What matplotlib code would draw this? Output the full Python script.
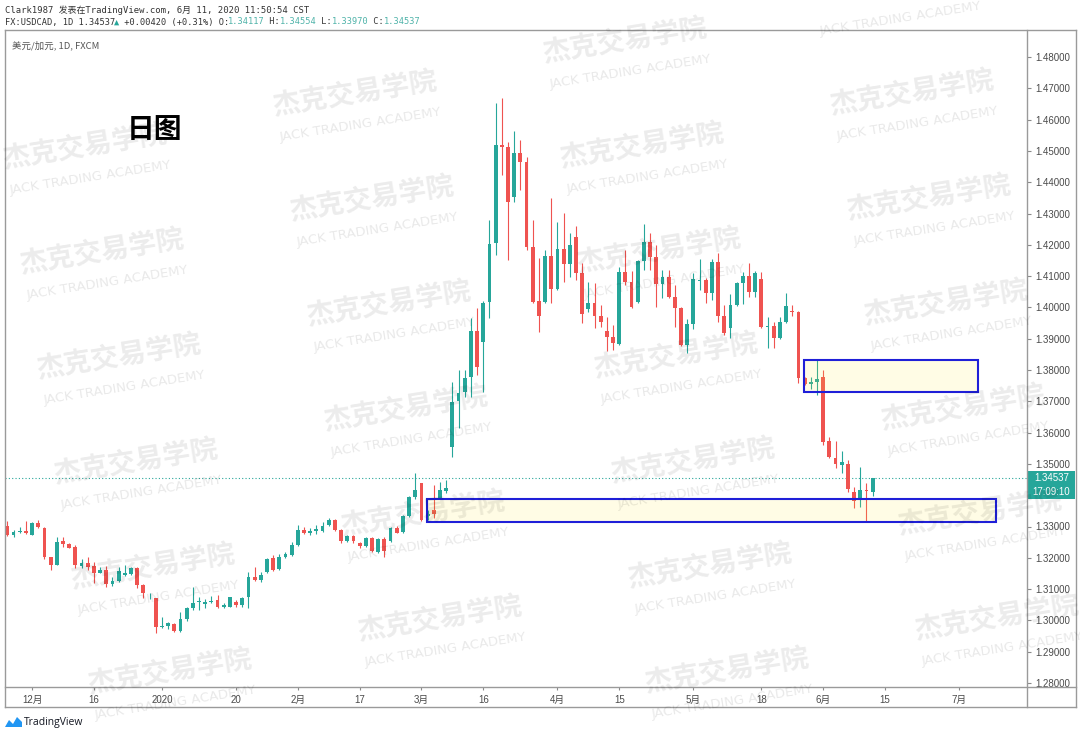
import matplotlib
matplotlib.use("Agg")
import matplotlib.pyplot as plt
import numpy as np
import pandas as pd
from matplotlib.patches import Rectangle, Polygon
from matplotlib.lines import Line2D

# ---------------- data ----------------
calendar = pd.bdate_range("2019-11-26", "2020-07-31")
calendar = calendar[~calendar.isin(pd.to_datetime(["2019-12-25", "2020-01-01"]))]

opens = [1.3300, 1.3273, 1.3281, 1.3286, 1.3273, 1.3310, 1.3296, 1.3202, 1.3176, 1.3254,
         1.3243, 1.3234, 1.3174, 1.3182, 1.3174, 1.3153, 1.3161, 1.3116, 1.3127, 1.3145,
         1.3148, 1.3166, 1.3113, 1.3070, 1.3071, 1.2978, 1.2982, 1.2989, 1.2967, 1.3003,
         1.3041, 1.3059, 1.3052, 1.3058, 1.3065, 1.3044, 1.3044, 1.3060, 1.3049, 1.3074,
         1.3140, 1.3129, 1.3156, 1.3200, 1.3163, 1.3202, 1.3209, 1.3241, 1.3289, 1.3280,
         1.3287, 1.3287, 1.3304, 1.3321, 1.3289, 1.3254, 1.3270, 1.3248, 1.3238, 1.3262,
         1.3220, 1.3259, 1.3254, 1.3295, 1.3284, 1.3334, 1.3393, 1.3438, 1.3335, 1.3352,
         1.3392, 1.3415, 1.3555, 1.3702, 1.3731, 1.3779, 1.3926, 1.3891, 1.4018, 1.4205,
         1.4519, 1.4513, 1.4354, 1.4494, 1.4466, 1.4194, 1.4022, 1.4018, 1.4165, 1.4059,
         1.4187, 1.4138, 1.4226, 1.4109, 1.3994, 1.4013, 1.3973, 1.3925, 1.3907, 1.3883,
         1.4114, 1.4082, 1.4018, 1.4149, 1.4210, 1.4162, 1.4075, 1.4096, 1.4034, 1.3999,
         1.3880, 1.3947, 1.4084, 1.4088, 1.4047, 1.4146, 1.3973, 1.3933, 1.4008, 1.4079,
         1.4100, 1.4050, 1.4090, 1.3936, 1.3941, 1.3901, 1.3954, 1.3989, 1.3986, 1.3776,
         1.3755, 1.3763, 1.3777, 1.3574, 1.3520, 1.3497, 1.3500, 1.3410, 1.3390, 1.3417,
         1.34117]
highs = [1.3316, 1.3289, 1.3300, 1.3316, 1.3313, 1.3321, 1.3300, 1.3204, 1.3268, 1.3265,
         1.3246, 1.3241, 1.3196, 1.3204, 1.3188, 1.3170, 1.3174, 1.3138, 1.3172, 1.3177,
         1.3170, 1.3170, 1.3116, 1.3087, 1.3071, 1.3012, 1.2996, 1.2991, 1.3028, 1.3044,
         1.3108, 1.3076, 1.3067, 1.3079, 1.3081, 1.3055, 1.3076, 1.3065, 1.3076, 1.3154,
         1.3172, 1.3156, 1.3198, 1.3209, 1.3212, 1.3220, 1.3252, 1.3305, 1.3297, 1.3294,
         1.3305, 1.3315, 1.3326, 1.3323, 1.3291, 1.3273, 1.3273, 1.3252, 1.3268, 1.3268,
         1.3262, 1.3268, 1.3297, 1.3302, 1.3337, 1.3397, 1.3470, 1.3440, 1.3352, 1.3433,
         1.3443, 1.3449, 1.3763, 1.3800, 1.3800, 1.3965, 1.3997, 1.4020, 1.4279, 1.4652,
         1.4668, 1.4530, 1.4562, 1.4535, 1.4482, 1.4279, 1.4157, 1.4183, 1.4348, 1.4274,
         1.4301, 1.4237, 1.4261, 1.4141, 1.4082, 1.4077, 1.4008, 1.3970, 1.3944, 1.4130,
         1.4183, 1.4117, 1.4151, 1.4267, 1.4239, 1.4199, 1.4120, 1.4120, 1.4072, 1.4002,
         1.3962, 1.4109, 1.4154, 1.4093, 1.4154, 1.4173, 1.4008, 1.4043, 1.4082, 1.4114,
         1.4141, 1.4117, 1.4114, 1.3970, 1.3954, 1.3970, 1.4045, 1.4008, 1.3988, 1.3779,
         1.3779, 1.3832, 1.3800, 1.3587, 1.3573, 1.3542, 1.3512, 1.3427, 1.3489, 1.3438,
         1.34554]
lows = [1.3270, 1.3265, 1.3280, 1.3276, 1.3273, 1.3296, 1.3196, 1.3161, 1.3176, 1.3236,
        1.3230, 1.3166, 1.3166, 1.3161, 1.3119, 1.3150, 1.3108, 1.3110, 1.3124, 1.3143,
        1.3145, 1.3103, 1.3071, 1.3067, 1.2959, 1.2975, 1.2972, 1.2964, 1.2964, 1.2999,
        1.3033, 1.3033, 1.3039, 1.3055, 1.3039, 1.3039, 1.3042, 1.3044, 1.3044, 1.3039,
        1.3127, 1.3124, 1.3150, 1.3158, 1.3161, 1.3198, 1.3206, 1.3238, 1.3276, 1.3273,
        1.3276, 1.3284, 1.3302, 1.3287, 1.3248, 1.3252, 1.3246, 1.3232, 1.3233, 1.3220,
        1.3216, 1.3204, 1.3251, 1.3278, 1.3280, 1.3329, 1.3387, 1.3319, 1.3322, 1.3327,
        1.3390, 1.3406, 1.3523, 1.3614, 1.3715, 1.3715, 1.3784, 1.3731, 1.3965, 1.4167,
        1.4423, 1.4151, 1.4338, 1.4375, 1.4183, 1.4013, 1.3923, 1.4013, 1.4013, 1.4056,
        1.4082, 1.4098, 1.4088, 1.3949, 1.3986, 1.3933, 1.3938, 1.3862, 1.3864, 1.3880,
        1.4072, 1.3997, 1.4015, 1.4120, 1.4120, 1.4002, 1.4029, 1.4029, 1.3938, 1.3877,
        1.3855, 1.3930, 1.4054, 1.4013, 1.4024, 1.3954, 1.3912, 1.3901, 1.4005, 1.4011,
        1.4032, 1.4032, 1.3933, 1.3869, 1.3869, 1.3898, 1.3949, 1.3972, 1.3757, 1.3752,
        1.3738, 1.3720, 1.3560, 1.3518, 1.3486, 1.3472, 1.3411, 1.3358, 1.3363, 1.3319,
        1.33970]
closes = [1.3273, 1.3284, 1.3286, 1.3278, 1.3310, 1.3300, 1.3201, 1.3177, 1.3252, 1.3243,
          1.3232, 1.3177, 1.3182, 1.3170, 1.3150, 1.3161, 1.3116, 1.3127, 1.3158, 1.3150,
          1.3166, 1.3113, 1.3089, 1.3073, 1.2980, 1.2982, 1.2991, 1.2967, 1.3003, 1.3041,
          1.3057, 1.3063, 1.3058, 1.3063, 1.3044, 1.3049, 1.3074, 1.3048, 1.3073, 1.3138,
          1.3129, 1.3145, 1.3196, 1.3161, 1.3204, 1.3212, 1.3241, 1.3289, 1.3280, 1.3286,
          1.3291, 1.3303, 1.3321, 1.3289, 1.3254, 1.3270, 1.3254, 1.3238, 1.3262, 1.3222,
          1.3259, 1.3223, 1.3295, 1.3280, 1.3334, 1.3393, 1.3417, 1.3321, 1.3340, 1.3340,
          1.3417, 1.3424, 1.3699, 1.3728, 1.3776, 1.3926, 1.3809, 1.4015, 1.4203, 1.4519,
          1.4513, 1.4338, 1.4494, 1.4466, 1.4194, 1.4018, 1.3973, 1.4165, 1.4059, 1.4187,
          1.4138, 1.4199, 1.4111, 1.3980, 1.4013, 1.3973, 1.3954, 1.3904, 1.3885, 1.4114,
          1.4082, 1.4000, 1.4149, 1.4210, 1.4162, 1.4075, 1.4096, 1.4034, 1.3997, 1.3880,
          1.3947, 1.4090, 1.4088, 1.4045, 1.4146, 1.3973, 1.3917, 1.4008, 1.4079, 1.4100,
          1.4050, 1.4109, 1.3936, 1.3941, 1.3901, 1.3954, 1.4005, 1.3984, 1.3776, 1.3755,
          1.3763, 1.3770, 1.3571, 1.3523, 1.3499, 1.3507, 1.3419, 1.3383, 1.3417, 1.3412,
          1.34537]

tick_dates = ["2019-12-02", "2019-12-16", "2020-01-02", "2020-01-20", "2020-02-03",
              "2020-02-17", "2020-03-02", "2020-03-16", "2020-04-01", "2020-04-15",
              "2020-05-01", "2020-05-18", "2020-06-01", "2020-06-15", "2020-07-01"]
tick_labels = ["12月", "16", "2020", "20", "2月", "17", "3月", "16", "4月", "15",
               "5月", "18", "6月", "15", "7月"]
price_ticks = [1.28, 1.29, 1.30, 1.31, 1.32, 1.33, 1.35, 1.36, 1.37, 1.38,
               1.39, 1.40, 1.41, 1.42, 1.43, 1.44, 1.45, 1.46, 1.47, 1.48]

last_price = 1.34537
countdown = "17:09:10"
zone_high = (1.3730, 1.3832)    # price range of upper box
zone_low = (1.3314, 1.3388)     # price range of lower box
zone_high_x = (128.95, 157.0)   # bar-index span
zone_low_x = (67.9, 160.0)

# ---------------- figure ----------------
W, H, DPI = 1080, 737, 100
fig = plt.figure(figsize=(W / DPI, H / DPI), dpi=DPI)
fig.patch.set_facecolor("white")

def fx(x):
    return x / W

def fy(y):
    return 1 - y / H

UP, DOWN = "#26a69a", "#ef5350"
CJK = ["Noto Sans CJK SC", "DejaVu Sans"]
AX_FONT = ["Liberation Sans", "Noto Sans CJK SC"]

L, R, T, B = 5, 1027, 30, 687
ax = fig.add_axes([fx(L), fy(B), (R - L) / W, (B - T) / H])
ax.set_facecolor("white")

o = np.array(opens); h = np.array(highs); l = np.array(lows); c = np.array(closes)
n = len(o)
xi = np.arange(n)
cols = np.where(c >= o, UP, DOWN)
ax.vlines(xi, l, h, colors=cols, linewidth=0.8, zorder=2)
bottom = np.minimum(o, c)
height = np.maximum(np.abs(c - o), 0.00022)
ax.bar(xi, height, bottom=bottom, width=0.62, color=cols, linewidth=0, zorder=3)

# zones
for (x0, x1), (y0, y1) in [(zone_high_x, zone_high), (zone_low_x, zone_low)]:
    ax.add_patch(Rectangle((x0, y0), x1 - x0, y1 - y0, facecolor=(1.0, 0.92, 0.23, 0.13),
                           edgecolor="#1f1fd8", linewidth=1.5, zorder=4))

ax.axhline(last_price, color=UP, linewidth=0.8, linestyle=(0, (1, 2)), zorder=1)

ax.set_xlim((L - 7.4) / 6.18, (R - 7.4) / 6.18)
ax.set_ylim(1.48 - (B - 57) / 3130, 1.48 + (57 - T) / 3130)

for s in ax.spines.values():
    s.set_visible(False)

tick_pos = [calendar.get_loc(pd.Timestamp(d)) for d in tick_dates]
ax.set_xticks(tick_pos)
ax.set_xticklabels(tick_labels, fontfamily=AX_FONT)
ax.tick_params(axis="x", length=2.5, pad=3, labelsize=7, colors="#8a8a8a", labelcolor="#4a4a4a")
ax.yaxis.tick_right()
ax.set_yticks(price_ticks)
ax.set_yticklabels([f"{v:.5f}" for v in price_ticks], fontfamily=AX_FONT)
ax.tick_params(axis="y", length=3, pad=3, labelsize=7, colors="#8a8a8a", labelcolor="#4a4a4a")

# frame lines
FRAME = "#9a9a9a"
def line(xs, ys, color=FRAME, lw=1.0):
    fig.add_artist(Line2D([fx(v) for v in xs], [fy(v) for v in ys], color=color,
                          linewidth=lw, transform=fig.transFigure))
line([4.5, 1075.5], [30, 30])
line([4.5, 4.5], [30, 707])
line([1075.5, 1075.5], [30, 707])
line([4.5, 1075.5], [707, 707])
line([1027, 1027], [30, 707])
line([4.5, 1075.5], [687, 687])

# last price labels
for y0, txt in [(471, f"{last_price:.5f}"), (485, countdown)]:
    fig.add_artist(Rectangle((fx(1028), fy(y0 + 13.5)), 47 / W, 13.5 / H,
                             facecolor=UP, edgecolor="none", transform=fig.transFigure))
    fig.text(fx(1051.5), fy(y0 + 6.8), txt, color="white", fontsize=7, ha="center", va="center",
             family=AX_FONT)

# header
fig.text(fx(5), fy(10), "Clark1987 发表在TradingView.com, 6月 11, 2020 11:50:54 CST",
         fontsize=6.4, color="#333333", va="center", ha="left",
         family=["DejaVu Sans Mono", "Noto Sans CJK SC"])
MONO = 6.2
cw = MONO * 0.602 * DPI / 72
segs = [("FX:USDCAD, 1D 1.34537", "#333333"), ("▲", UP), (" +0.00420 (+0.31%) O:", "#333333"),
        ("1.34117", "#4fb3a9"), (" H:", "#333333"), ("1.34554", "#4fb3a9"),
        (" L:", "#333333"), ("1.33970", "#4fb3a9"), (" C:", "#333333"), ("1.34537", "#4fb3a9")]
pos = 0
for s, col in segs:
    fig.text(fx(5 + pos * cw), fy(22), s, fontsize=MONO, color=col, va="center", ha="left",
             family=["DejaVu Sans Mono", "DejaVu Sans"])
    pos += len(s)

fig.text(fx(12), fy(45), "美元/加元, 1D, FXCM", fontsize=6.8, color="#555555",
         va="center", ha="left", family=CJK)
fig.text(fx(127), fy(130), "日图", fontsize=20, fontweight="bold", color="black",
         va="center", ha="left", family=CJK)

# TradingView logo
logo = [(5, 727), (9, 720), (13, 724), (17, 717), (22, 722), (22, 727)]
fig.add_artist(Polygon([(fx(a), fy(b)) for a, b in logo], closed=True, facecolor="#2196f3",
                       edgecolor="none", transform=fig.transFigure))
fig.text(fx(24), fy(722), "TradingView", fontsize=7.5, color="#131722", va="center",
         ha="left", family=["Open Sans", "DejaVu Sans"])

# watermarks
for i in range(0, 4):
    for j in range(-1, 8):
        cx = 85 + 270 * i + 17 * j
        cy = 148 - 53 * i + 105 * j
        if cy > 700 or cy < -15 or (i, j) in [(0, -1), (1, -1)]:
            continue
        if cy > 10:
            fig.text(fx(cx), fy(cy), "杰克交易学院", fontsize=20, fontweight="bold",
                     color="black", alpha=0.08, rotation=9, ha="center", va="center",
                     rotation_mode="anchor", family=CJK, zorder=10)
        fig.text(fx(cx + 5), fy(cy + 30), "JACK TRADING ACADEMY", fontsize=9.5,
                 color="black", alpha=0.09, rotation=9, ha="center", va="center",
                 rotation_mode="anchor", family=["DejaVu Sans"], zorder=10)

fig.savefig("out.png", dpi=DPI, facecolor="white")
